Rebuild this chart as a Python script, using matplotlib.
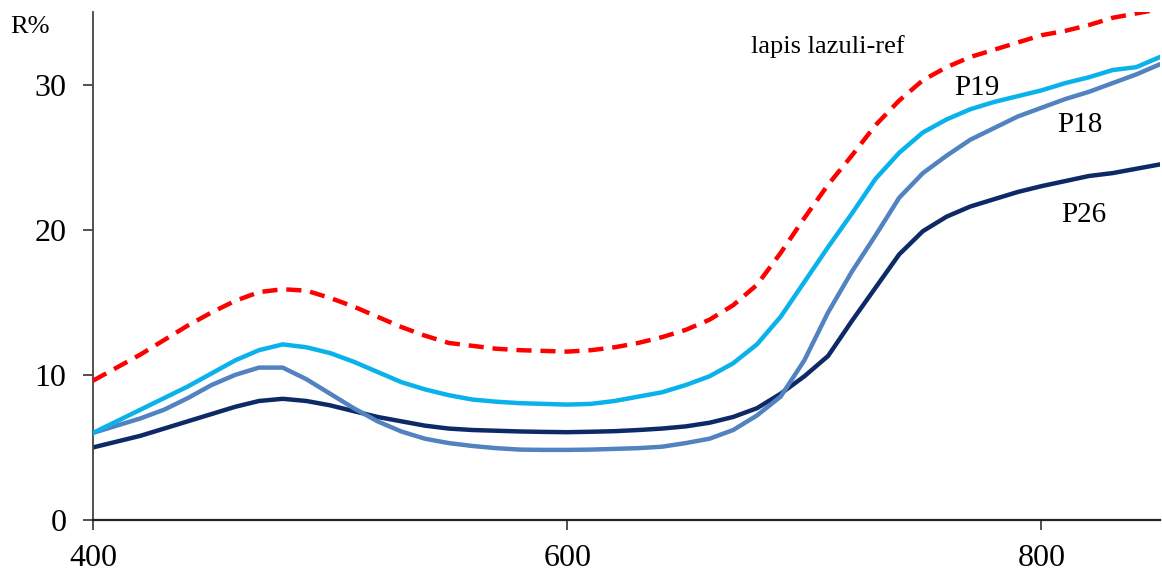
import matplotlib
matplotlib.use("Agg")
import matplotlib.pyplot as plt

plt.rcParams['font.family'] = ['Liberation Serif', 'DejaVu Serif']

wavelength = list(range(400, 851, 10))

lapis_ref = [9.6, 10.5, 11.4, 12.4, 13.4, 14.3, 15.1, 15.7, 15.9, 15.8,
             15.3, 14.7, 14.0, 13.3, 12.7, 12.2, 12.0, 11.8, 11.7, 11.65,
             11.6, 11.7, 11.9, 12.2, 12.6, 13.1, 13.8, 14.8, 16.2, 18.4,
             20.8, 23.1, 25.1, 27.2, 28.9, 30.3, 31.2, 31.9, 32.4, 32.9,
             33.4, 33.7, 34.1, 34.6, 34.9, 35.2]

p19 = [6.0, 6.8, 7.6, 8.4, 9.2, 10.1, 11.0, 11.7, 12.1, 11.9,
       11.5, 10.9, 10.2, 9.5, 9.0, 8.6, 8.3, 8.15, 8.05, 8.0,
       7.95, 8.0, 8.2, 8.5, 8.8, 9.3, 9.9, 10.8, 12.1, 14.0,
       16.4, 18.8, 21.1, 23.5, 25.3, 26.7, 27.6, 28.3, 28.8, 29.2,
       29.6, 30.1, 30.5, 31.0, 31.2, 31.9]

p18 = [6.0, 6.5, 7.0, 7.6, 8.4, 9.3, 10.0, 10.5, 10.5, 9.7,
       8.7, 7.7, 6.8, 6.1, 5.6, 5.3, 5.1, 4.95, 4.85, 4.83,
       4.83, 4.85, 4.9, 4.95, 5.05, 5.3, 5.6, 6.2, 7.2, 8.5,
       11.0, 14.3, 17.1, 19.6, 22.2, 23.9, 25.1, 26.2, 27.0, 27.8,
       28.4, 29.0, 29.5, 30.1, 30.7, 31.4]

p26 = [5.0, 5.4, 5.8, 6.3, 6.8, 7.3, 7.8, 8.2, 8.35, 8.2,
       7.9, 7.5, 7.1, 6.8, 6.5, 6.3, 6.2, 6.15, 6.1, 6.07,
       6.05, 6.08, 6.12, 6.2, 6.3, 6.45, 6.7, 7.1, 7.7, 8.7,
       9.9, 11.3, 13.7, 16.0, 18.3, 19.9, 20.9, 21.6, 22.1, 22.6,
       23.0, 23.35, 23.7, 23.9, 24.2, 24.5]

labels = ["lapis lazuli-ref", "P19", "P18", "P26"]
x_ticks = [400, 600, 800]
y_ticks = [0, 10, 20, 30]

fig = plt.figure(figsize=(11.62, 5.74), dpi=100)
ax = fig.add_axes([93/1162, 54/574, (1160-93)/1162, (520-12)/574])

ax.plot(wavelength, p26, color='#0E2A66', lw=3.2, solid_capstyle='round', zorder=2)
ax.plot(wavelength, p18, color='#5283C0', lw=3.2, solid_capstyle='round', zorder=3)
ax.plot(wavelength, p19, color='#0AB2EC', lw=3.2, solid_capstyle='round', zorder=4)
ax.plot(wavelength, lapis_ref, color='#FF0000', lw=3.2, dashes=(3.4, 2.0), zorder=5)

ax.set_xlim(400, 850)
ax.set_ylim(0, 35)
ax.set_xticks(x_ticks)
ax.set_yticks(y_ticks)
ax.tick_params(axis='both', direction='out', length=7, width=1.2, colors='#333333',
               labelsize=23, labelcolor='black')
ax.tick_params(axis='y', pad=12)
ax.tick_params(axis='x', pad=10)
for s in ['top', 'right']:
    ax.spines[s].set_visible(False)
ax.spines['left'].set_color('#444444')
ax.spines['bottom'].set_color('#222222')
ax.spines['left'].set_linewidth(1.3)
ax.spines['bottom'].set_linewidth(1.6)

ax.text(677.5, 32.2, labels[0], fontsize=19, va='baseline', ha='left')
ax.text(763.0, 29.3, labels[1], fontsize=21, va='baseline', ha='left')
ax.text(806.7, 26.76, labels[2], fontsize=21, va='baseline', ha='left')
ax.text(808.4, 20.5, labels[3], fontsize=21, va='baseline', ha='left')

fig.text(10/1162, 1 - 33/574, "R%", fontsize=19, va='baseline', ha='left')

fig.savefig("out.png", dpi=100)
